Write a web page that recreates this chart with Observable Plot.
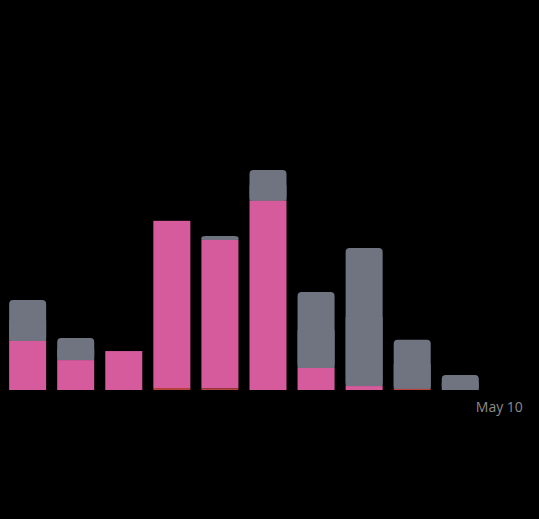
<!DOCTYPE html>
<html>
<head>
<meta charset="utf-8">
<script src="https://cdn.jsdelivr.net/npm/d3@7"></script>
<script src="https://cdn.jsdelivr.net/npm/@observablehq/plot@0.6"></script>
<style>
  html, body { margin: 0; padding: 0; background: #000; }
  #chart { width: 539px; height: 519px; overflow: hidden; }
</style>
</head>
<body>
<div id="chart"></div>
<script>
const days   = ["Apr 30","May 1","May 2","May 3","May 4","May 5","May 6","May 7","May 8","May 9","May 10"];
const red    = [0, 0, 0, 0.9, 0.7, 0, 0, 0, 0.5, 0, 0];
const pink   = [22.3, 13.6, 17.7, 76, 67.5, 86, 10, 1.8, 0, 0, 0];
const gray   = [18.6, 10, 0, 0, 1.8, 14, 34.5, 62.7, 22.3, 6.8, 0];
const labelDay = "May 10";

const COLORS = {red: "#b8423c", pink: "#d55b9d", gray: "#6f7480"};

const rows = days.map((d, i) => {
  const r0 = 0, r1 = red[i];
  const p0 = r1, p1 = r1 + pink[i];
  const g0 = p1, g1 = p1 + gray[i];
  return {day: d, r0, r1, p0, p1, g0, g1, gmid: (g0 + g1) / 2};
});

const chart = Plot.plot({
  width: 539,
  height: 519,
  marginLeft: 0,
  marginRight: 3,
  marginTop: 170,
  marginBottom: 129,
  style: {background: "#000", fontFamily: "'Open Sans', 'Noto Sans', sans-serif"},
  x: {type: "band", domain: days, paddingInner: 0.23, paddingOuter: 0.19, round: false, axis: null, label: null},
  y: {domain: [0, 100], axis: null},
  marks: [
    // gray top segment with rounded corners
    Plot.rectY(rows.filter(d => d.g1 > d.g0), {x: "day", y1: "g0", y2: "g1", fill: COLORS.gray, rx: 4}),
    // square off the lower corners of gray segment
    Plot.rectY(rows.filter(d => d.g1 > d.g0), {x: "day", y1: "g0", y2: "gmid", fill: COLORS.gray}),
    Plot.rectY(rows.filter(d => d.p1 > d.p0), {x: "day", y1: "p0", y2: "p1", fill: COLORS.pink}),
    Plot.rectY(rows.filter(d => d.r1 > d.r0), {x: "day", y1: "r0", y2: "r1", fill: COLORS.red}),
    Plot.axisX({
      ticks: [labelDay],
      tickSize: 0,
      tickPadding: 12,
      fontSize: 14,
      fill: "#8c8c8c",
      textAnchor: "end",
      dx: 14,
      label: null
    })
  ]
});
document.getElementById("chart").appendChild(chart);
</script>
</body>
</html>
